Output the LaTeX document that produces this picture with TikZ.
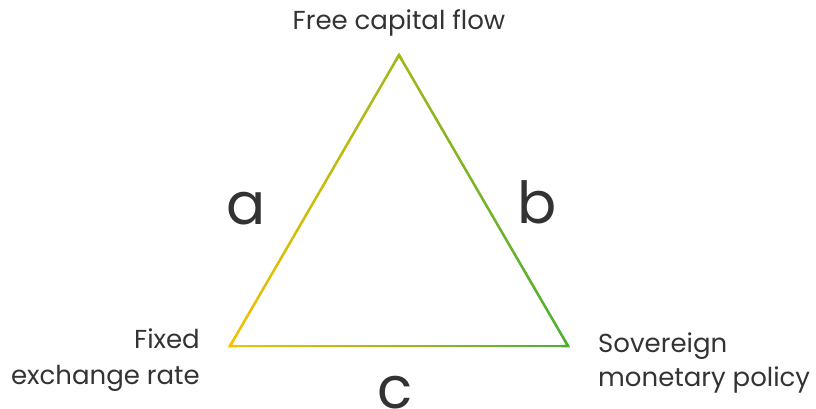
\documentclass[tikz,border=0pt]{standalone}
\usepackage{fontspec}
\setmainfont{Poppins}
\usetikzlibrary{calc}
\definecolor{cyel}{HTML}{F5C000}
\definecolor{cgrn}{HTML}{4CAF32}
\definecolor{ctxt}{HTML}{333333}
\tikzset{
  lbl/.style={text=ctxt, font=\fontsize{26}{32}\selectfont, inner sep=0pt},
  big/.style={text=ctxt, font=\fontsize{58}{58}\selectfont, inner sep=0pt},
  edge/.style={line width=2.5pt, line cap=round},
}
\begin{document}
\begin{tikzpicture}[x=1pt,y=-1pt]
\useasboundingbox (0,0) rectangle (816,409);
\coordinate (L) at (230,346);
\coordinate (T) at (399,55);
\coordinate (R) at (568,346);
\def\n{60}
\foreach \i in {1,...,\n}{
  \pgfmathsetmacro{\a}{(\i-1)/\n}
  \pgfmathsetmacro{\b}{\i/\n}
  \pgfmathsetmacro{\mid}{(\i-0.5)/\n}
  \pgfmathsetmacro{\pa}{100-50*\mid}
  \draw[edge, color=cyel!\pa!cgrn] ($(L)!\a!(T)$) -- ($(L)!\b!(T)$);
  \pgfmathsetmacro{\pb}{50-50*\mid}
  \draw[edge, color=cyel!\pb!cgrn] ($(T)!\a!(R)$) -- ($(T)!\b!(R)$);
  \pgfmathsetmacro{\pc}{100-100*\mid}
  \draw[edge, color=cyel!\pc!cgrn] ($(L)!\a!(R)$) -- ($(L)!\b!(R)$);
}
\draw[line width=2.5pt, line join=miter, cyel] ($(L)!0.02!(T)$) -- (L) -- ($(L)!0.02!(R)$);
\draw[line width=2.5pt, line join=miter, cyel!50!cgrn] ($(T)!0.02!(L)$) -- (T) -- ($(T)!0.02!(R)$);
\draw[line width=2.5pt, line join=miter, cgrn] ($(R)!0.02!(T)$) -- (R) -- ($(R)!0.02!(L)$);

\node[lbl, anchor=base] (top) at (399,30) {Free capital flow};
\node[lbl, anchor=base east] (left) at (200,348) {Fixed};
\node[lbl, anchor=base east] (left2) at (200,384) {exchange rate};
\node[lbl, anchor=base west] (right) at (598,352) {Sovereign};
\node[lbl, anchor=base west] (right2) at (598,386) {monetary policy};
\node[big, anchor=base] (la) at (246,224) {a};
\node[big, anchor=base] (lb) at (537,223) {b};
\node[big, anchor=base] (lc) at (395,408) {c};
\end{tikzpicture}
\end{document}
